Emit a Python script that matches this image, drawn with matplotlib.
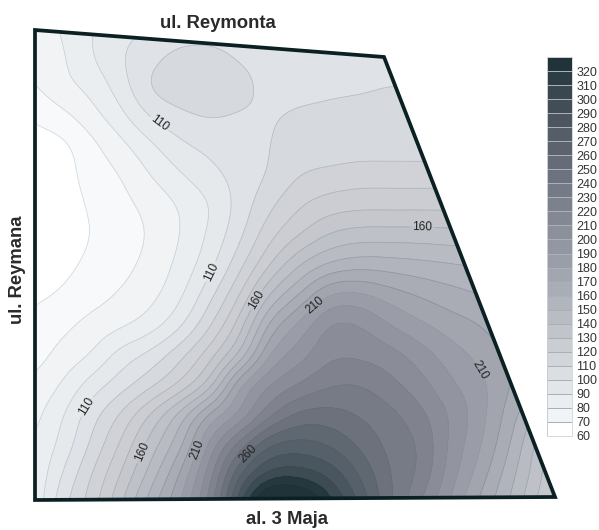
import numpy as np
import matplotlib
matplotlib.use("Agg")
import matplotlib.pyplot as plt
from matplotlib.colors import ListedColormap, BoundaryNorm, to_rgb
from matplotlib.patches import Polygon

plt.rcParams['font.family'] = ['Liberation Sans', 'DejaVu Sans']

site_x = [30, 60, 90, 120, 150, 180, 210, 240, 270, 300, 330, 360, 390, 420, 450, 480, 510, 540, 570]
site_y = [25, 55, 85, 115, 145, 175, 205, 235, 265, 295, 325, 355, 385, 415, 445, 475, 505]

row_025 = [78, 91, 99, 106, 110, 112, 112, 111, 111, 111, 111, 111, 111, 111, 111, 111, 111, 111, 111]
row_055 = [82, 88, 99, 109, 116, 123, 124, 118, 114, 113, 113, 113, 113, 113, 113, 113, 113, 113, 113]
row_085 = [79, 87, 93, 105, 121, 126, 127, 124, 116, 115, 117, 118, 120, 120, 120, 120, 120, 120, 120]
row_115 = [71, 77, 86, 97, 111, 118, 121, 119, 119, 122, 123, 124, 124, 124, 124, 124, 124, 124, 124]
row_145 = [66, 67, 77, 87, 98, 108, 113, 116, 120, 123, 124, 125, 125, 125, 125, 125, 125, 125, 125]
row_175 = [62, 65, 74, 80, 90, 99, 107, 114, 121, 130, 133, 135, 135, 135, 135, 135, 135, 135, 135]
row_205 = [62, 65, 71, 77, 83, 91, 100, 114, 128, 139, 145, 147, 147, 147, 147, 147, 147, 147, 147]
row_235 = [62, 65, 70, 75, 81, 90, 102, 118, 137, 150, 161, 165, 165, 165, 164, 163, 162, 160, 160]
row_265 = [62, 67, 72, 77, 83, 93, 107, 127, 150, 170, 182, 186, 185, 183, 181, 179, 177, 175, 173]
row_295 = [68, 71, 76, 81, 87, 98, 117, 140, 171, 191, 211, 212, 205, 199, 194, 190, 186, 182, 178]
row_325 = [72, 77, 83, 88, 95, 108, 129, 155, 193, 213, 231, 230, 220, 212, 205, 200, 192, 185, 178]
row_355 = [75, 83, 90, 104, 113, 127, 146, 172, 211, 226, 238, 238, 234, 225, 215, 207, 198, 188, 178]
row_385 = [82, 90, 104, 115, 127, 142, 165, 210, 230, 241, 249, 250, 243, 234, 222, 213, 200, 190, 175]
row_415 = [86, 98, 115, 131, 151, 174, 203, 222, 248, 263, 264, 259, 253, 243, 229, 214, 195, 175, 155]
row_445 = [90, 102, 121, 141, 164, 187, 223, 255, 280, 284, 279, 268, 257, 249, 228, 211, 190, 165, 140]
row_475 = [90, 109, 129, 150, 174, 201, 236, 280, 304, 306, 297, 279, 260, 248, 225, 205, 184, 162, 140]
row_505 = [90, 115, 134, 158, 185, 210, 244, 298, 345, 340, 314, 288, 262, 240, 219, 198, 179, 157, 138]

levels = list(range(60, 340, 10))
bar_ticks = list(range(60, 330, 10))

map_colors = ['#ffffff', '#f7f9fa', '#f1f3f5', '#ebeef0', '#e6e9eb', '#dfe2e6', '#d6d9dd',
              '#d0d2d7', '#cbcdd2', '#c5c7cd', '#bfc1c8', '#b8bbc2', '#b1b4bc', '#a9acb5',
              '#a2a5ae', '#9a9da7', '#92959f', '#8a8d97', '#80838d', '#777b85', '#6c717b',
              '#5f6771', '#56606a', '#4a565f', '#3d4b52', '#24383d', '#1f3338']
bar_colors = ['#ffffff', '#f1f4f6', '#eaeef0', '#e3e6e9', '#dbdfe2', '#d2d6da', '#cacdd2',
              '#c1c5ca', '#b9bdc3', '#b1b5bc', '#a9adb5', '#a2a6af', '#9a9ea8', '#9397a1',
              '#8b909b', '#838894', '#7c818d', '#747a86', '#6c7280', '#666c77', '#5c636f',
              '#555d68', '#4c5560', '#434d57', '#3a4750', '#2d3d45', '#1f3338']

corner_x = [35, 384, 555, 35]
corner_y = [30, 57, 497, 500]
label_levels = [110, 160, 210, 270]
label_text = {110: '110', 160: '160', 210: '210', 270: '260'}
label_x = [157, 207, 87, 422, 257, 137, 315, 192, 480, 247]
label_y = [127, 270, 407, 228, 300, 450, 305, 448, 370, 452]

grid = np.array([row_025, row_055, row_085, row_115, row_145, row_175, row_205, row_235, row_265,
                 row_295, row_325, row_355, row_385, row_415, row_445, row_475, row_505], float)


def smooth_axis(a, n, axis):
    """Catmull-Rom resampling so the isolines are drawn as curves."""
    a = np.moveaxis(a, axis, 0)
    m = a.shape[0]
    t = np.linspace(0, m - 1, (m - 1) * n + 1)
    i = np.clip(t.astype(int), 0, m - 2)
    u = (t - i).reshape((-1,) + (1,) * (a.ndim - 1))
    p0 = a[np.clip(i - 1, 0, m - 1)]
    p1 = a[i]
    p2 = a[i + 1]
    p3 = a[np.clip(i + 2, 0, m - 1)]
    out = 0.5 * (2 * p1 + (p2 - p0) * u + (2 * p0 - 5 * p1 + 4 * p2 - p3) * u ** 2
                 + (3 * p1 - p0 - 3 * p2 + p3) * u ** 3)
    return np.moveaxis(out, 0, axis)


def soften(a, sigma, axis):
    """Light blur that takes the hand-reading wiggles out of the isolines."""
    r = int(3 * sigma)
    k = np.exp(-0.5 * (np.arange(-r, r + 1) / sigma) ** 2)
    k /= k.sum()
    a = np.moveaxis(a, axis, 0)
    pad = np.concatenate([2 * a[:1] - a[r:0:-1], a, 2 * a[-1:] - a[-2:-r - 2:-1]], axis=0)
    out = np.apply_along_axis(lambda v: np.convolve(v, k, mode='valid'), 0, pad)
    return np.moveaxis(out, 0, axis)


N = 8
Z = smooth_axis(smooth_axis(grid, N, 0), N, 1)
Z = soften(soften(Z, 2.4, 0), 2.4, 1)
xs = np.linspace(site_x[0], site_x[-1], (len(site_x) - 1) * N + 1)
ys = np.linspace(site_y[0], site_y[-1], (len(site_y) - 1) * N + 1)

fig = plt.figure(figsize=(5.99, 5.30), dpi=100, facecolor='white')
ax = fig.add_axes([0, 0, 1, 1])
ax.set_xlim(0, 599)
ax.set_ylim(530, 0)
ax.axis('off')

cmap = ListedColormap(map_colors)
norm = BoundaryNorm(levels, cmap.N)
outline = Polygon(np.column_stack([corner_x, corner_y]), closed=True, fill=False,
                  edgecolor='#0b2022', linewidth=2.7, joinstyle='miter', zorder=5)
ax.add_patch(outline)

cf = ax.contourf(xs, ys, Z, levels=levels, cmap=cmap, norm=norm, extend='max', zorder=1)
cf.set_clip_path(outline)


def line_color(level):
    r, g, b = to_rgb(map_colors[levels.index(level)])
    if level >= 210:
        return (r * 0.96, g * 0.97, b * 0.98)
    return (r * 0.84, g * 0.88, b * 0.90)


plain_levels = [v for v in levels[:-1] if v not in label_levels]
cs_plain = ax.contour(xs, ys, Z, levels=plain_levels, colors=[line_color(v) for v in plain_levels],
                      linewidths=0.55, zorder=2)
cs_plain.set_clip_path(outline)
cs_lab = ax.contour(xs, ys, Z, levels=label_levels, colors=[line_color(v) for v in label_levels],
                    linewidths=0.55, zorder=2)
texts = ax.clabel(cs_lab, fmt=label_text, fontsize=8.6, inline=True, inline_spacing=2,
                  colors='#222222', manual=list(zip(label_x, label_y)))
cs_lab.set_clip_path(outline)

ax.text(218, 23, 'ul. Reymonta', ha='center', va='center', fontsize=13.3, fontweight='bold', color='#2a2a2a')
ax.text(287, 520, 'al. 3 Maja', ha='center', va='center', fontsize=13.3, fontweight='bold', color='#2a2a2a')
ax.text(18, 270, 'ul. Reymana', ha='center', va='center', rotation=90, fontsize=13.3,
        fontweight='bold', color='#2a2a2a')

cax = fig.add_axes([547 / 599, 1 - 436 / 530, 25 / 599, (436 - 57) / 530])
cax.pcolormesh([0, 1], levels, np.arange(len(bar_colors)).reshape(-1, 1),
               cmap=ListedColormap(bar_colors), vmin=-0.5, vmax=len(bar_colors) - 0.5,
               edgecolors='#a9b0b6', linewidth=0.4)
cax.set_xlim(0, 1)
cax.set_ylim(levels[0], levels[-1])
cax.set_xticks([])
cax.yaxis.tick_right()
cax.set_yticks(bar_ticks)
cax.set_yticklabels([str(v) for v in bar_ticks], fontsize=9, color='#333333')
cax.tick_params(axis='y', length=0, pad=3)
for s in cax.spines.values():
    s.set_color('#cdd3d7')
    s.set_linewidth(0.6)

fig.savefig('out.png', dpi=100, facecolor='white')
